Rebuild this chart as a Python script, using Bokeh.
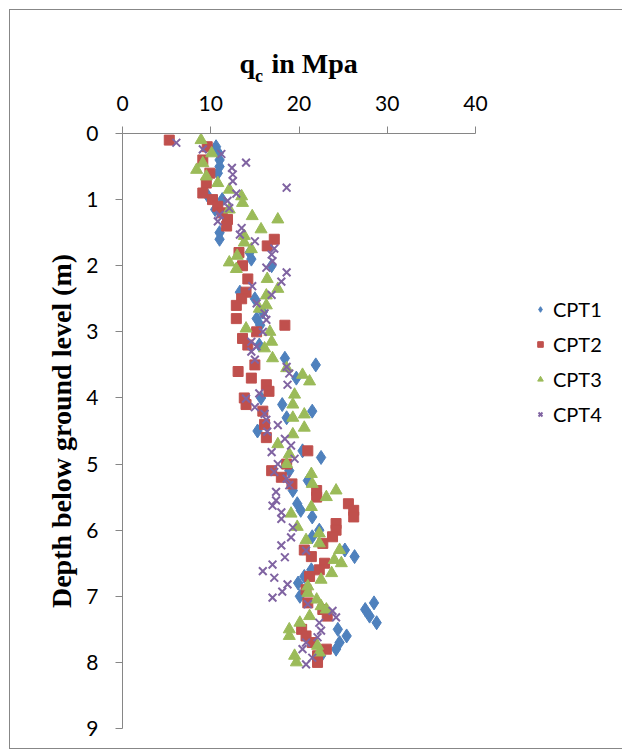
from bokeh.plotting import figure
from bokeh.models import Range1d, LinearAxis, Label, Legend, LegendItem, FixedTicker
from bokeh.embed import file_html
from bokeh.resources import INLINE

# ---- data (depth in m, qc in MPa) ----
cpt1_depth = [0.2, 0.3, 0.4, 0.5, 0.6, 0.95, 1.0, 1.15, 1.5, 1.6, 1.8, 1.9, 2.0, 2.4, 2.5, 2.7, 2.8, 2.9,
              3.2, 3.4, 3.5, 3.7, 4.0, 4.1, 4.2, 4.3, 4.5, 4.8, 4.9, 5.1, 5.25, 5.4, 5.6, 5.7, 5.8, 6.0,
              6.1, 6.3, 6.4, 6.6, 6.7, 6.8, 7.0, 7.1, 7.2, 7.3, 7.4, 7.5, 7.6, 7.7, 7.8, 7.9]
cpt1_qc = [10.6, 10.9, 11.0, 11.0, 10.8, 9.7, 11.3, 10.5, 11.0, 11.0, 14.4, 14.6, 16.9, 13.3, 15.0, 15.9, 15.2, 15.6,
           15.5, 18.4, 21.9, 19.7, 15.7, 18.1, 21.5, 18.6, 15.3, 20.4, 22.5, 18.9, 21.0, 19.3, 19.8, 20.2, 21.5, 22.3,
           21.5, 25.2, 26.3, 21.4, 20.6, 19.9, 20.1, 28.5, 27.5, 28.0, 28.8, 24.4, 25.4, 24.6, 24.2, 22.5]

cpt2_depth = [0.1, 0.2, 0.4, 0.6, 0.75, 0.9, 1.0, 1.1, 1.2, 1.3, 1.4, 1.6, 1.7, 1.8, 2.0, 2.2, 2.4, 2.5, 2.6,
              2.8, 2.9, 3.0, 3.1, 3.2, 3.5, 3.6, 3.7, 3.8, 3.9, 4.0, 4.1, 4.2, 4.4, 4.6, 4.8, 5.0, 5.1, 5.2,
              5.3, 5.4, 5.5, 5.6, 5.7, 5.8, 5.9, 6.0, 6.1, 6.2, 6.3, 6.4, 6.5, 6.6, 6.7, 6.9, 7.1, 7.2, 7.3,
              7.5, 7.6, 7.7, 7.8, 7.9, 8.0]
cpt2_qc = [5.3, 9.6, 9.1, 9.9, 9.5, 9.1, 10.2, 10.8, 11.3, 11.9, 11.8, 17.2, 16.4, 13.2, 13.6, 14.2, 14.0, 13.5, 12.9,
           12.9, 18.4, 15.2, 13.6, 14.2, 15.0, 13.1, 14.6, 16.3, 16.6, 13.8, 14.0, 15.9, 16.1, 16.3, 21.0, 18.6, 16.9, 18.0,
           19.2, 22.0, 22.0, 25.6, 26.2, 26.2, 24.2, 24.2, 23.8, 22.7, 20.6, 21.4, 22.9, 22.3, 21.2, 20.8, 21.0, 22.7, 23.2,
           20.3, 20.8, 21.5, 23.1, 22.1, 22.1]

cpt3_depth = [0.1, 0.3, 0.45, 0.55, 0.65, 0.75, 0.85, 0.95, 1.05, 1.15, 1.25, 1.3, 1.45, 1.55, 1.65, 1.75, 1.85,
              1.95, 2.05, 2.2, 2.35, 2.45, 2.6, 2.65, 2.95, 3.0, 3.15, 3.25, 3.4, 3.55, 3.65, 3.75, 3.95, 4.1,
              4.25, 4.3, 4.45, 4.55, 4.7, 4.85, 5.0, 5.15, 5.3, 5.4, 5.5, 5.65, 5.75, 5.95, 6.05, 6.15, 6.2,
              6.3, 6.45, 6.5, 6.65, 6.75, 6.85, 6.95, 7.05, 7.15, 7.2, 7.3, 7.4, 7.5, 7.6, 7.75, 7.85, 7.9, 8.0]
cpt3_qc = [8.9, 10.1, 9.1, 8.4, 9.5, 10.8, 12.1, 13.5, 13.6, 12.1, 14.7, 17.6, 15.7, 13.8, 13.8, 14.6, 13.0,
           12.1, 12.9, 16.4, 17.6, 16.3, 16.3, 15.5, 14.0, 16.7, 16.9, 16.1, 17.0, 18.6, 20.4, 21.2, 19.5, 19.3,
           20.6, 19.3, 20.6, 19.3, 17.6, 18.9, 18.6, 21.4, 21.5, 24.2, 23.1, 21.4, 19.1, 19.8, 22.3, 20.8, 22.3,
           24.6, 24.0, 24.8, 23.7, 22.5, 21.0, 21.0, 22.0, 22.5, 23.1, 21.2, 20.1, 18.9, 18.9, 22.1, 22.3, 19.5, 19.7]

cpt4_depth = [0.14, 0.24, 0.31, 0.44, 0.52, 0.62, 0.72, 0.82, 0.91, 1.02, 1.13, 1.23, 1.33, 1.43, 1.53, 1.63,
              1.74, 1.83, 1.93, 2.03, 2.1, 2.24, 2.31, 2.44, 2.57, 2.72, 2.82, 3.0, 3.15, 3.22, 3.3, 3.42, 3.53,
              3.63, 3.8, 3.93, 4.01, 4.14, 4.24, 4.33, 4.41, 4.51, 4.62, 4.72, 4.82, 4.92, 5.0, 5.12, 5.22,
              5.32, 5.42, 5.55, 5.63, 5.73, 5.83, 5.96, 6.11, 6.23, 6.31, 6.41, 6.52, 6.62, 6.72, 6.82, 6.93,
              7.02, 7.12, 7.22, 7.32, 7.4, 7.52, 7.62, 7.7, 7.8, 7.93, 8.03]
cpt4_qc = [6.1, 9.1, 11.2, 14.0, 12.4, 12.5, 12.5, 18.6, 12.9, 11.9, 12.1, 11.0, 10.8, 13.5, 13.3, 15.0,
           17.2, 16.9, 17.0, 16.3, 18.6, 18.0, 14.7, 16.9, 15.2, 16.1, 16.3, 15.9, 14.6, 15.2, 14.6, 15.0, 18.6,
           18.9, 18.7, 15.5, 14.0, 15.0, 16.1, 16.3, 17.6, 16.4, 18.4, 19.1, 16.9, 19.5, 17.6, 17.2, 18.6,
           18.9, 17.4, 17.4, 17.0, 18.0, 18.0, 19.3, 19.1, 18.0, 20.8, 18.4, 17.0, 15.9, 17.2, 18.7, 18.1,
           17.0, 21.0, 23.8, 24.2, 22.3, 22.5, 22.1, 20.8, 20.4, 21.5, 20.8]

series_names = ["CPT1", "CPT2", "CPT3", "CPT4"]
x_ticks = [0, 10, 20, 30, 40]
y_ticks = [0, 1, 2, 3, 4, 5, 6, 7, 8, 9]
title_main = "q"
title_sub = "c"
title_rest = "in Mpa"
y_title = "Depth below ground level (m)"

AXIS_COL = "#868686"
TOP, LEFT, BOTTOM = 121, 112, 20
FW, FH = 353, 595

p = figure(frame_width=FW, frame_height=FH, margin=(9, 0, 0, 9),
           x_range=Range1d(0, 40), y_range=Range1d(9, 0),
           x_axis_location=None, y_axis_location=None,
           output_backend="svg", toolbar_location=None,
           min_border_left=LEFT, min_border_top=TOP, min_border_bottom=BOTTOM, min_border_right=140)
p.styles = {"border": "1px solid #878787"}
p.outline_line_color = None
p.xgrid.visible = False
p.ygrid.visible = False
p.background_fill_color = "white"
p.border_fill_color = "white"

xa = LinearAxis(ticker=FixedTicker(ticks=x_ticks))
ya = LinearAxis(ticker=FixedTicker(ticks=y_ticks))
for ax in (xa, ya):
    ax.axis_line_color = AXIS_COL
    ax.major_tick_line_color = AXIS_COL
    ax.major_tick_out = 7
    ax.major_tick_in = 0
    ax.minor_tick_line_color = None
    ax.major_label_text_font = "Lato"
    ax.major_label_text_font_size = "21px"
    ax.major_label_text_color = "black"
xa.major_label_standoff = 16
ya.major_label_standoff = 17
ya.axis_label = y_title
ya.axis_label_text_font = "Liberation Serif"
ya.axis_label_text_font_style = "bold"
ya.axis_label_text_font_size = "28px"
ya.axis_label_text_color = "black"
ya.axis_label_standoff = 6
p.add_layout(xa, "above")
p.add_layout(ya, "left")

# title with subscript: labels placed in the panels above the top axis (screen px, panel-relative)
title_font = "Liberation Serif"
for txt, x_px, y_px, fs in [(title_main, 117, 29, "28px"), (title_sub, 132.5, -14, "18px"), (title_rest, 149, -22, "28px")]:
    p.add_layout(Label(x=x_px, y=y_px, x_units="screen", y_units="screen", text=txt,
                       text_font=title_font, text_font_style="bold", text_font_size=fs,
                       text_baseline="alphabetic", text_align="left", text_color="black"), "above")

r1 = p.scatter(cpt1_qc, cpt1_depth, marker="diamond", size=14, fill_color="#4F81BD", line_color="#4F81BD")
r2 = p.scatter(cpt2_qc, cpt2_depth, marker="square", size=10, fill_color="#C0504D", line_color="#C0504D")
r3 = p.scatter(cpt3_qc, cpt3_depth, marker="triangle", size=12, fill_color="#9BBB59", line_color="#9BBB59")
r4 = p.scatter(cpt4_qc, cpt4_depth, marker="x", size=11, line_color="#8064A2", line_width=2)

legend = Legend(items=[LegendItem(label=series_names[i], renderers=[r]) for i, r in enumerate([r1, r2, r3, r4])],
                location=(58, 302), orientation="vertical")
legend.label_text_font = "Lato"
legend.label_text_font_size = "20px"
legend.label_text_color = "black"
legend.border_line_color = None
legend.background_fill_alpha = 0
legend.padding = 0
legend.margin = 0
legend.spacing = 11
legend.label_height = 22
legend.glyph_height = 22
legend.glyph_width = 14
legend.label_standoff = 6
p.add_layout(legend, "right")

open("out.html", "w").write(file_html(p, INLINE))
